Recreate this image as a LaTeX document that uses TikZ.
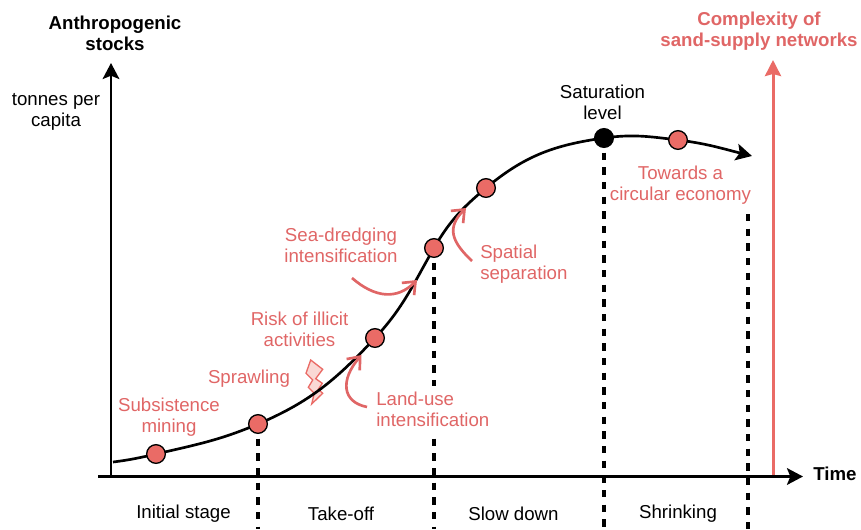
\documentclass[tikz,border=0pt]{standalone}
\usepackage{fontspec}
\setmainfont{Liberation Sans}
\usepackage{tikz}
\usetikzlibrary{arrows.meta}

\definecolor{sandred}{HTML}{EA6B66}
\definecolor{sandtxt}{HTML}{E06666}
\definecolor{boltfill}{HTML}{FAD9D5}

\tikzset{
    stage/.style={circle,draw=black,line width=1pt,fill=sandred,minimum size=14pt,inner sep=0},
    lab/.style={font=\fontsize{14}{16}\selectfont,align=center,inner sep=0},
    redlab/.style={lab,text=sandtxt},
    headlab/.style={lab,font=\fontsize{14}{16}\selectfont\bfseries},
    axis/.style={line width=2pt,-{Stealth[length=12pt,width=12.5pt,inset=2.5pt]}},
    droptick/.style={draw=black,line width=2.5pt,dash pattern=on 5.5pt off 5.5pt},
    push/.style={draw=sandtxt,line width=2pt,-{Straight Barb[length=8pt,width=13pt]}}
}

\begin{document}
\begin{tikzpicture}[x=0.75pt,y=-0.75pt]
    \useasboundingbox (0,0) rectangle (861,529);

    % Anchor points
    \coordinate (origin) at (111,476.5);
    \coordinate (xstart) at (98,476.5);
    \coordinate (xend) at (803,476.5);
    \coordinate (ytop) at (111,63);
    \coordinate (cstart) at (113,462);
    \coordinate (cend) at (752,156);
    \coordinate (redbase) at (773,476.5);
    \coordinate (redtop) at (773,60);

    % Stages on the curve
    \coordinate (p1) at (156,454);
    \coordinate (p2) at (258,424);
    \coordinate (p3) at (375,338);
    \coordinate (p4) at (434,248);
    \coordinate (p5) at (486,188);
    \coordinate (p6) at (604,138);
    \coordinate (p7) at (678,140);

    % Draw the dashed limits
    \coordinate (d1) at (258,529);
    \coordinate (d2) at (434,529);
    \coordinate (d3) at (604,529);
    \coordinate (d4a) at (748,214);
    \coordinate (d4b) at (748,529);
    \draw[droptick] (p2) -- (d1);
    \draw[droptick] (p4) -- (d2);
    \draw[droptick] (p6) -- (d3);
    \draw[droptick] (d4a) -- (d4b);

    % Draw the axes
    \draw[line width=2.25pt,draw=sandred,-{Stealth[length=12pt,width=12pt,inset=1.5pt]}] (redbase) -- (redtop);
    \draw[axis] (origin) -- (ytop);
    \draw[axis] (xstart) -- (xend);

    % Draw the bolt
    \draw[draw=sandred,fill=boltfill,line width=1pt] (310.7,360) -- (322.7,369.3) -- (315.7,378.7)
        -- (322.3,383.3) -- (318.3,389.3) -- (322.7,393.3) -- (311.7,404) -- (314.3,393.3)
        -- (308.3,387.3) -- (312.7,380) -- (306,373.3) -- cycle;

    % Draw the curve
    \draw[line width=2pt,-{Stealth[length=12pt,width=12.5pt,inset=2.5pt]}] (cstart)
        to[out=7,in=193] (p1)
        to[out=13,in=203] (p2)
        to[out=23,in=227] (p3)
        to[out=47,in=240] (p4)
        to[out=60,in=220] (p5)
        to[out=40,in=188] (p6)
        to[out=8,in=173] (p7)
        to[out=-7,in=166] (cend);

    % Draw the stage markers
    \node[stage] (n1) at (p1) {};
    \node[stage] (n2) at (p2) {};
    \node[stage] (n3) at (p3) {};
    \node[stage] (n4) at (p4) {};
    \node[stage] (n5) at (p5) {};
    \node[stage,fill=black] (n6) at (p6) {};
    \node[stage] (n7) at (p7) {};

    % Draw the red pushes
    \coordinate (a1) at (367,407);
    \coordinate (a2) at (361.5,355);
    \coordinate (b1) at (352,278);
    \coordinate (b2) at (417,280);
    \coordinate (c1) at (472,261);
    \coordinate (c2) at (466,208);
    \draw[push] (a1) .. controls (342,402) and (340,380) .. (a2);
    \draw[push] (b1) .. controls (375,298) and (397,300) .. (b2);
    \draw[push] (c1) .. controls (452,242) and (446,228) .. (c2);

    % Black labels
    \node[headlab] (stocks) at (115,33) {Anthropogenic\\stocks};
    \node[lab] (unit) at (56,112) {tonnes per\\capita};
    \node[lab] (satur) at (602.5,102.5) {Saturation\\level};
    \node[headlab,anchor=west] (time) at (813,474) {Time};
    \node[lab] (s1) at (183.5,514) {Initial stage};
    \node[lab] (s2) at (341,514) {Take-off};
    \node[lab] (s3) at (513.5,514) {Slow down};
    \node[lab] (s4) at (678,514) {Shrinking};

    % Red labels
    \node[headlab,text=sandtxt] (complex) at (759,31) {Complexity of\\sand-supply networks};
    \node[redlab] (l1) at (169,417) {Subsistence\\mining};
    \node[redlab] (l2) at (249,379) {Sprawling};
    \node[redlab] (l3) at (299.5,329.5) {Risk of illicit\\activities};
    \node[redlab,align=left,anchor=west,fill=white,inner ysep=4pt] (l4) at (376,409) {Land-use\\intensification};
    \node[redlab] (l5) at (341,245) {Sea-dredging\\intensification};
    \node[redlab,align=left,anchor=west] (l6) at (480,264) {Spatial\\separation};
    \node[redlab] (l7) at (680.5,185) {Towards a\\circular economy};

\end{tikzpicture}
\end{document}
